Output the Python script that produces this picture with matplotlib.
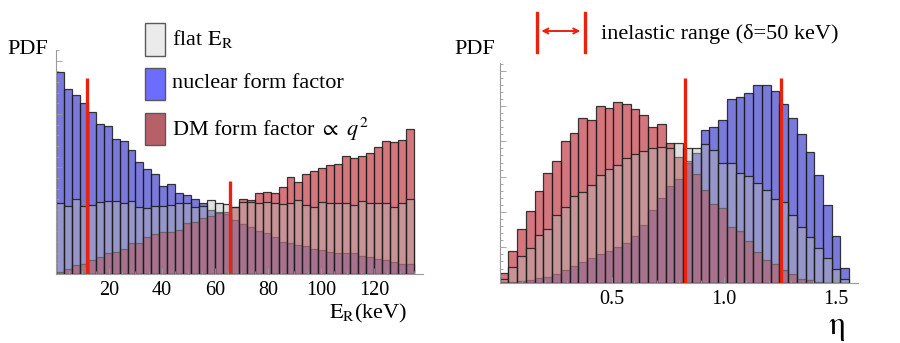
import matplotlib
matplotlib.use('Agg')
import matplotlib.pyplot as plt
from matplotlib.patches import Rectangle, FancyArrowPatch
from matplotlib.lines import Line2D
from matplotlib.ticker import MultipleLocator
import numpy as np

plt.rcParams['font.family'] = ['Liberation Serif', 'STIXGeneral', 'DejaVu Serif']
plt.rcParams['mathtext.fontset'] = 'stix'

# ---------------- data ----------------
# Left panel: recoil-energy histograms, 3 keV bins from 0 to 135 keV (arbitrary PDF units)
er_bin_width = 3.0
er_flat = [71, 68, 75, 68, 69, 72, 73, 73, 71, 73, 67, 66, 68, 68, 69, 71, 71, 67, 68, 74,
           71, 70, 67, 72, 72, 71, 72, 71, 70, 71, 74, 69, 67, 72, 71, 71, 71, 69, 73, 71,
           71, 71, 67, 71, 75]
er_nuclear = [202, 185, 179, 171, 162, 150, 148, 135, 133, 124, 112, 105, 100, 88, 90, 81, 79, 75, 71, 64,
              62, 60, 54, 50, 47, 43, 41, 37, 32, 31, 29, 28, 25, 24, 22, 21, 21, 21, 18, 17,
              15, 14, 12, 10, 10]
er_dm = [2, 5, 9, 10, 14, 17, 21, 22, 25, 31, 31, 37, 40, 42, 42, 44, 51, 52, 56, 58,
         61, 62, 67, 75, 74, 81, 82, 81, 87, 97, 92, 100, 103, 106, 109, 110, 118, 116, 118, 121,
         127, 133, 132, 134, 145]
er_marks = [11.8, 65.7]
er_mark_tops = [196, 93]
er_ticks = [20, 40, 60, 80, 100, 120]

# Right panel: eta histograms, bins of 0.039 from 0
eta_bin_width = 0.039
eta_flat = [4, 16, 27, 35, 48, 54, 68, 76, 87, 91, 98, 108, 114, 118, 125, 129, 132, 135, 136, 135,
            140, 135, 135, 139, 133, 120, 120, 110, 107, 100, 93, 84, 81, 68, 56, 46, 35, 25, 14, 4]
eta_nuclear = [1, 1, 2, 3, 5, 6, 9, 13, 17, 21, 25, 29, 32, 36, 40, 47, 58, 73, 85, 97,
               104, 120, 130, 153, 156, 163, 184, 186, 190, 198, 198, 192, 179, 165, 149, 131, 108, 78, 47, 15]
eta_dm = [10, 32, 54, 72, 92, 110, 122, 142, 150, 165, 163, 177, 175, 181, 179, 174, 168, 156, 159, 140,
          126, 122, 109, 93, 79, 75, 56, 52, 42, 31, 23, 19, 13, 9, 4, 3, 1, 0, 0, 0]
eta_marks = [0.827, 1.256]
eta_mark_top = 204.7
eta_ticks = [0.5, 1.0, 1.5]
eta_ticklabels = ['0.5', '1.0', '1.5']

legend_labels = [r'flat $\mathrm{E_R}$', 'nuclear form factor', r'DM form factor $\propto$ $q^2$']

# ---------------- style ----------------
W, H = 900, 343
SERIF = ['Liberation Serif', 'STIXGeneral', 'DejaVu Serif']
fig = plt.figure(figsize=(9.0, 3.43), dpi=100)

c_blue = (13/255, 13/255, 188/255, 0.55)
c_red = (177/255, 6/255, 19/255, 0.55)
c_flat = (186/255, 186/255, 186/255, 0.44)
c_edge = (0.1, 0.1, 0.1, 0.85)
c_mark = '#e8220c'
c_axis = '#9a9a9a'


def fig_rect(x0, y0, x1, y1):
    return [x0 / W, 1 - y1 / H, (x1 - x0) / W, (y1 - y0) / H]


def draw_hist(ax, bw, series):
    for vals, col in series:
        edges = np.arange(len(vals)) * bw
        ax.bar(edges, vals, width=bw, align='edge', facecolor=col,
               edgecolor=c_edge, linewidth=0.9)


def style_axes(ax):
    for s in ['top', 'right']:
        ax.spines[s].set_visible(False)
    for s in ['left', 'bottom']:
        ax.spines[s].set_color(c_axis)
        ax.spines[s].set_linewidth(0.8)
    ax.tick_params(axis='both', which='both', direction='in', color=c_axis, width=0.6)
    ax.tick_params(axis='both', which='major', length=4)
    ax.tick_params(axis='both', which='minor', length=2)
    ax.tick_params(axis='x', labelsize=14.5, pad=5)
    ax.tick_params(axis='y', labelleft=False)
    for lbl in ax.get_xticklabels():
        lbl.set_fontfamily(SERIF)


# Left panel
axL = fig.add_axes(fig_rect(56, 50, 422.7, 274))
draw_hist(axL, er_bin_width, [(er_nuclear, c_blue), (er_dm, c_red), (er_flat, c_flat)])
for xm, top in zip(er_marks, er_mark_tops):
    axL.plot([xm, xm], [0, top], color=c_mark, lw=2.4, solid_capstyle='butt', zorder=5)
axL.set_xlim(0, 138.4)
axL.set_ylim(0, 224)
axL.set_xticks(er_ticks)
axL.set_xticklabels([str(t) for t in er_ticks])
axL.xaxis.set_minor_locator(MultipleLocator(5))
axL.yaxis.set_major_locator(MultipleLocator(53.3))
axL.yaxis.set_minor_locator(MultipleLocator(10.66))
style_axes(axL)

# Right panel
axR = fig.add_axes(fig_rect(499.7, 63, 857.7, 282.7))
draw_hist(axR, eta_bin_width, [(eta_nuclear, c_blue), (eta_dm, c_red), (eta_flat, c_flat)])
for xm in eta_marks:
    axR.plot([xm, xm], [0, eta_mark_top], color=c_mark, lw=2.4, solid_capstyle='butt', zorder=5)
axR.set_xlim(0, 1.598)
axR.set_ylim(0, 220)
axR.set_xticks(eta_ticks)
axR.set_xticklabels(eta_ticklabels)
axR.xaxis.set_minor_locator(MultipleLocator(0.1))
axR.yaxis.set_major_locator(MultipleLocator(35.4))
axR.yaxis.set_minor_locator(MultipleLocator(7.08))
style_axes(axR)

# Axis labels
fig.text(7 / W, 1 - 50 / H, 'PDF', fontsize=16, va='center', ha='left')
fig.text(454 / W, 1 - 50 / H, 'PDF', fontsize=16, va='center', ha='left')
fig.text(407 / W, 1 - 313 / H, r'$\mathrm{E_R}$(keV)', fontsize=16, va='center', ha='right')
fig.text(837 / W, 1 - 326 / H, 'η', fontsize=24, va='center', ha='center',
         family=['STIXGeneral', 'DejaVu Serif'])

# Legend (left panel)
legend_colors = [(235/255, 235/255, 235/255), (108/255, 108/255, 255/255), (183/255, 96/255, 104/255)]
legend_boxes = [(23, 56), (68, 100), (113, 145)]
for lab, col, (y0, y1) in zip(legend_labels, legend_colors, legend_boxes):
    r = Rectangle((145 / W, 1 - y1 / H), 20 / W, (y1 - y0) / H, transform=fig.transFigure,
                  facecolor=col, edgecolor=(0.35, 0.35, 0.35), linewidth=1.0)
    fig.add_artist(r)
    fig.text(172 / W, 1 - (y0 + y1) / 2 / H, lab, fontsize=16, va='center', ha='left')

# Inelastic range annotation
for xp in [536.7, 585.0]:
    fig.add_artist(Line2D([xp / W, xp / W], [1 - 13 / H, 1 - 52 / H], transform=fig.transFigure,
                          color=c_mark, lw=2.4))
arr = FancyArrowPatch((538.5 / W, 1 - 31 / H), (583.2 / W, 1 - 31 / H), transform=fig.transFigure,
                      arrowstyle='<->', mutation_scale=9, color=c_mark, lw=1.4)
fig.add_artist(arr)
fig.text(601 / W, 1 - 34 / H, 'inelastic range (δ=50 keV)', fontsize=16, va='center', ha='left',
         family=['Liberation Serif', 'STIXGeneral', 'DejaVu Serif'])

fig.savefig('out.png', dpi=100)
